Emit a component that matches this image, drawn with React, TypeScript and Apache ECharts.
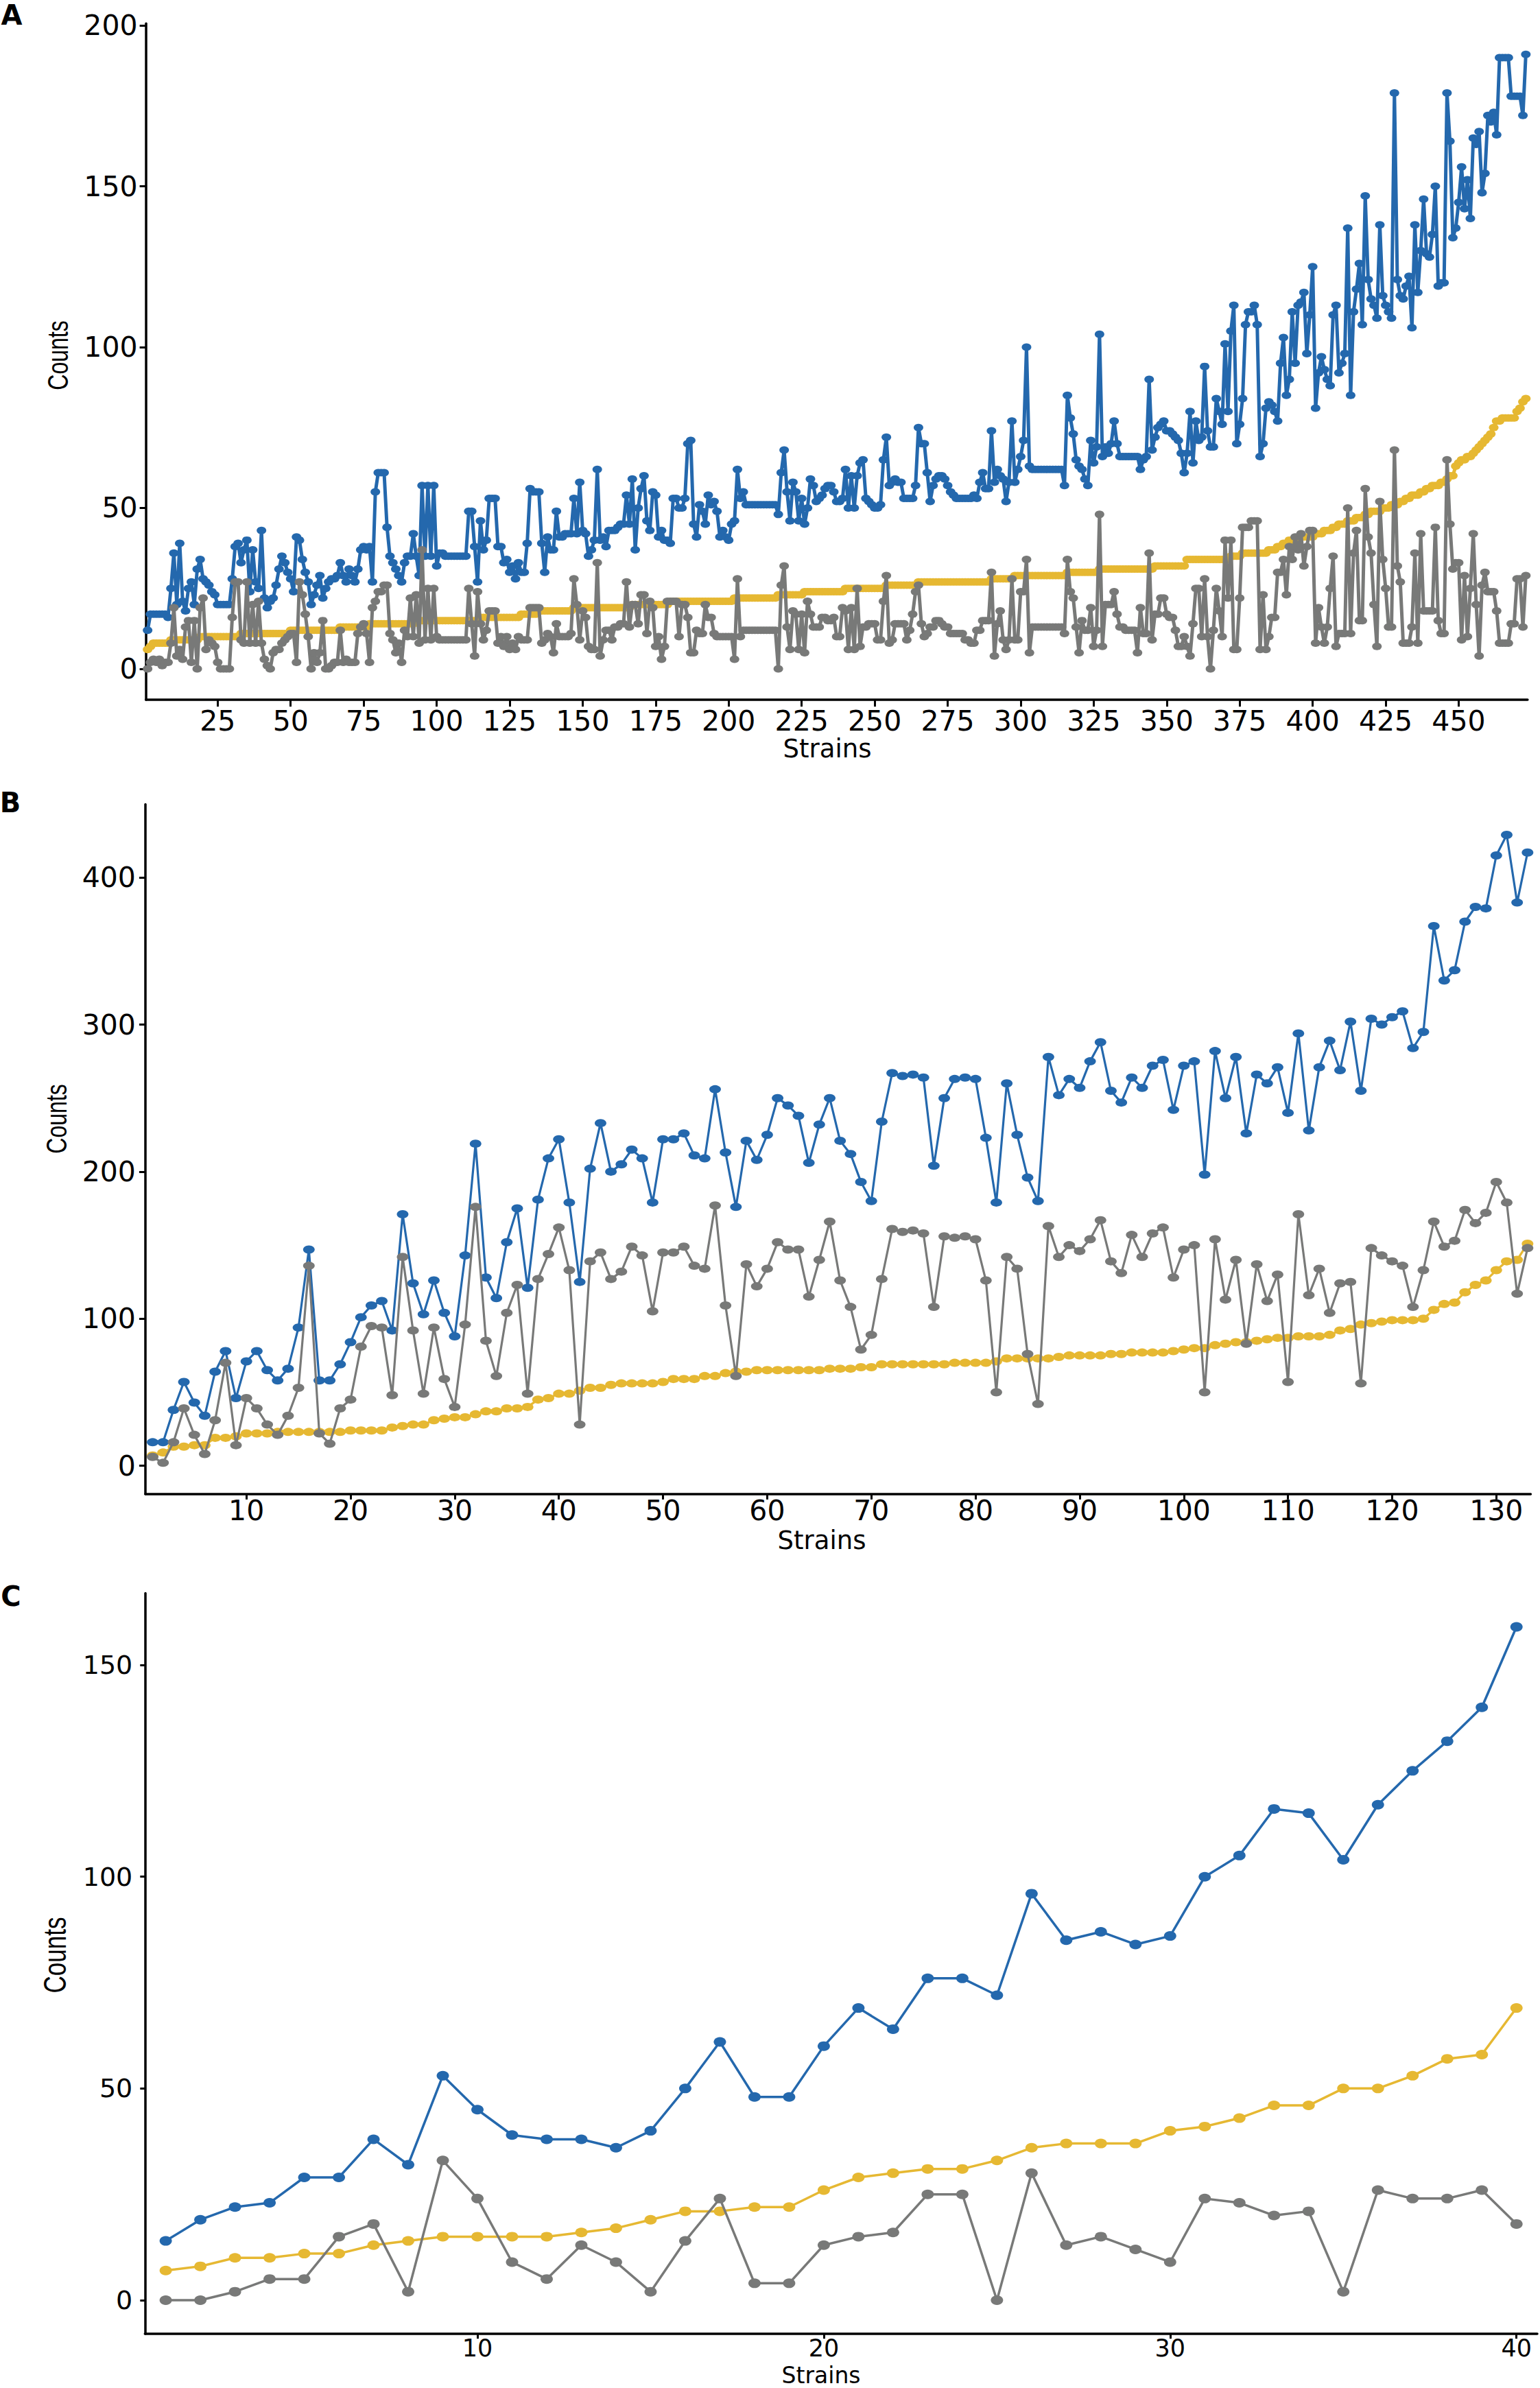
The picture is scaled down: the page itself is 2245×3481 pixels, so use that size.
import React, { useEffect, useRef } from "react";
import * as echarts from "echarts";

// ---------------- Panel A (473 strains) ----------------
const blueA = [
  12,17,17,17,17,17,17,16,25,36,
  20,39,21,18,25,27,20,31,34,28,
  27,26,24,23,20,20,20,20,20,28,
  38,39,33,37,40,24,37,27,25,43,
  22,19,21,22,26,31,35,33,30,28,
  24,41,40,34,30,27,20,23,26,29,
  22,25,27,28,28,29,33,29,27,31,
  29,27,31,37,38,37,38,27,55,61,
  61,61,44,35,33,31,29,27,33,35,
  35,42,35,29,57,35,57,35,57,32,
  36,36,35,35,35,35,35,35,35,35,
  49,49,38,27,46,37,40,53,53,53,
  38,38,33,34,30,32,28,33,30,30,
  39,56,55,55,55,39,30,41,37,37,
  49,41,41,42,42,42,53,42,58,43,
  42,35,37,40,62,40,41,38,43,43,
  43,44,45,45,54,45,59,37,50,56,
  60,46,43,55,54,41,43,40,40,39,
  53,53,50,50,53,70,71,45,41,51,
  49,45,54,51,52,49,41,43,41,40,
  45,46,62,53,55,51,51,51,51,51,
  51,51,51,51,51,51,48,61,68,55,
  46,58,55,46,53,45,50,59,57,52,
  53,54,56,57,57,55,52,52,53,62,
  50,60,50,60,64,65,53,52,51,50,
  50,51,65,72,57,58,59,58,58,53,
  53,53,53,57,75,70,70,61,52,57,
  59,60,60,59,57,55,54,53,53,53,
  53,53,53,54,53,58,61,56,56,74,
  58,62,60,59,52,58,77,58,62,66,
  71,100,63,62,62,62,62,62,62,62,
  62,62,62,62,57,85,78,73,65,63,
  62,59,57,71,64,69,104,66,69,67,
  70,77,70,66,66,66,66,66,66,66,
  62,65,66,90,68,72,75,76,77,74,
  74,73,72,71,67,61,67,80,64,77,
  71,72,94,74,69,69,84,80,76,101,
  80,105,113,70,76,84,107,111,111,113,
  107,66,70,81,83,82,80,77,95,103,
  85,90,111,95,113,114,117,98,110,125,
  81,92,97,93,90,88,110,113,92,95,
  98,137,85,111,118,126,107,147,121,115,
  113,109,138,116,113,111,109,179,121,116,
  115,119,122,106,138,117,130,146,129,128,
  135,150,119,120,120,179,164,134,137,145,
  156,143,152,140,165,163,167,148,154,172,
  170,173,166,190,190,190,190,178,178,178,
  178,172,191,
];

const greyA = [
  0,2,3,2,3,1,2,2,8,19,
  4,6,3,13,15,2,15,0,19,22,
  6,9,8,7,2,0,0,0,0,16,
  27,27,9,8,27,8,20,8,21,8,
  3,1,0,5,6,6,8,9,10,11,
  11,2,27,23,17,10,0,5,2,5,
  15,0,0,1,2,2,12,2,3,2,
  2,2,11,13,14,11,2,19,21,24,
  24,26,26,11,9,5,8,2,12,10,
  22,10,23,8,37,9,25,9,25,10,
  9,9,9,9,9,9,9,9,9,9,
  25,14,4,24,14,9,12,18,18,18,
  8,10,7,10,6,8,6,10,9,9,
  9,19,19,19,19,8,9,11,10,5,
  14,10,10,10,10,11,28,20,9,18,
  16,7,6,6,33,4,9,12,12,9,
  13,13,14,14,27,13,20,20,14,23,
  23,11,21,19,7,10,3,7,21,21,
  21,21,10,20,20,16,5,5,12,11,
  11,20,16,16,11,10,10,10,10,10,
  10,3,28,10,12,12,12,12,12,12,
  12,12,12,12,12,12,0,26,32,13,
  6,18,17,6,17,5,21,17,13,13,
  13,16,16,15,15,16,10,10,19,18,
  6,19,6,25,7,13,13,14,14,14,
  9,9,21,29,8,9,14,14,14,14,
  9,12,17,24,26,14,10,11,13,13,
  15,15,14,13,13,11,11,11,11,11,
  9,9,8,8,12,12,15,15,15,30,
  4,14,18,9,6,9,28,9,9,24,
  24,34,5,13,13,13,13,13,13,13,
  13,13,13,13,11,34,24,22,13,5,
  15,12,12,19,7,12,48,7,20,20,
  20,24,17,13,13,12,12,12,12,5,
  19,11,11,36,9,17,17,22,22,17,
  16,16,12,7,7,10,7,4,14,25,
  25,10,28,10,0,12,25,18,10,40,
  22,40,6,6,22,44,44,44,46,46,
  46,6,23,6,10,16,16,30,30,34,
  23,38,34,41,37,42,32,38,43,43,
  8,19,13,8,13,25,35,7,11,11,
  11,50,11,36,43,15,15,56,41,36,
  20,7,52,34,25,13,13,68,32,27,
  8,8,8,13,36,8,42,18,18,18,
  18,44,15,11,11,65,45,31,33,33,
  9,29,10,25,42,20,4,26,30,24,
  24,24,18,8,8,8,8,14,14,28,
  28,13,29,
];

const yellowA = [
  6,7,8,8,8,8,8,8,9,9,
  9,9,9,9,9,9,9,9,10,10,
  10,10,10,10,10,10,10,10,10,10,
  10,10,11,11,11,11,11,11,11,11,
  11,11,11,11,11,11,11,11,11,12,
  12,12,12,12,12,12,12,12,12,12,
  12,12,12,12,12,12,13,13,13,13,
  13,13,13,13,13,13,14,14,14,14,
  14,14,14,14,14,14,14,14,14,14,
  14,14,15,15,15,15,15,15,15,15,
  15,15,15,15,15,15,15,15,15,15,
  15,15,15,15,16,16,16,16,16,16,
  16,16,16,16,16,16,16,16,17,17,
  17,17,17,17,18,18,18,18,18,18,
  18,18,18,18,18,18,19,19,19,19,
  19,19,19,19,19,19,19,19,19,19,
  19,19,19,19,19,19,20,20,20,20,
  20,20,20,20,20,20,20,20,20,21,
  21,21,21,21,21,21,21,21,21,21,
  21,21,21,21,21,21,21,21,21,21,
  21,22,22,22,22,22,22,22,22,22,
  22,22,22,22,22,22,23,23,23,23,
  23,23,23,23,23,24,24,24,24,24,
  24,24,24,24,24,24,24,24,24,25,
  25,25,25,25,25,25,25,25,25,25,
  25,25,25,26,26,26,26,26,26,26,
  26,26,26,26,27,27,27,27,27,27,
  27,27,27,27,27,27,27,27,27,27,
  27,27,27,27,27,27,27,27,27,28,
  28,28,28,28,28,28,28,29,29,29,
  29,29,29,29,29,29,29,29,29,29,
  29,29,29,29,29,30,30,30,30,30,
  30,30,30,30,30,30,31,31,31,31,
  31,31,31,31,31,31,31,31,31,31,
  31,31,31,31,31,32,32,32,32,32,
  32,32,32,32,32,32,34,34,34,34,
  34,34,34,34,34,34,34,34,34,34,
  34,35,35,35,35,36,36,36,36,36,
  36,36,36,36,37,37,37,38,38,39,
  39,40,40,40,40,41,41,41,41,41,
  42,42,42,43,43,43,44,44,45,45,
  45,46,46,46,47,47,47,48,48,49,
  49,49,49,50,50,50,51,51,51,52,
  52,53,53,54,54,54,55,55,56,56,
  57,57,57,58,58,59,60,60,63,64,
  65,65,66,66,67,68,69,70,71,72,
  73,75,77,77,78,78,78,78,78,80,
  81,83,84,
];

// ---------------- Panel B (133 strains) ----------------
const blueB = [
  16,16,38,57,43,34,64,78,46,71,
  78,65,58,66,94,147,58,58,69,84,
  101,109,112,92,171,124,103,126,104,88,
  143,219,128,114,152,175,121,181,209,222,
  179,125,202,233,200,205,215,209,179,222,
  222,226,211,209,256,213,176,221,208,225,
  250,245,238,206,232,250,221,212,193,180,
  234,267,265,266,264,204,250,263,264,263,
  223,179,260,225,196,180,278,252,263,257,
  275,288,255,247,264,257,272,276,242,272,
  275,198,282,250,278,226,266,260,271,240,
  294,228,271,289,269,302,255,304,300,305,
  309,284,295,367,330,337,370,380,379,415,
  429,383,417,
];

const greyB = [
  6,2,16,39,21,8,31,70,14,46,
  39,28,21,34,53,136,22,15,39,45,
  81,95,94,48,142,92,49,94,59,40,
  96,176,85,61,104,123,49,127,144,162,
  133,28,139,145,127,132,149,143,105,145,
  145,149,136,134,177,109,61,137,122,134,
  152,147,147,115,140,166,126,108,79,89,
  127,161,159,160,158,108,156,155,156,154,
  126,50,142,134,76,42,163,142,150,146,
  154,167,139,131,157,142,158,162,128,147,
  150,50,154,113,140,83,137,112,130,57,
  171,116,134,104,124,125,56,148,143,139,
  136,108,133,166,149,153,174,165,172,193,
  179,117,148,
];

const yellowB = [
  7,9,13,13,14,14,19,19,20,22,
  22,22,23,23,23,23,23,23,23,24,
  24,24,24,26,27,28,28,31,32,33,
  33,35,37,37,39,39,40,45,46,49,
  49,51,53,53,55,56,56,56,56,57,
  59,59,59,61,61,63,64,64,65,65,
  65,65,65,65,65,66,66,66,67,67,
  69,69,69,69,69,69,69,70,70,70,
  70,71,73,73,73,73,73,74,75,75,
  75,75,76,76,77,77,77,77,78,79,
  80,80,82,83,84,84,85,86,87,87,
  88,88,88,89,92,93,96,97,98,99,
  99,99,100,106,110,111,118,123,126,133,
  139,140,151,
];

// ---------------- Panel C (40 strains) ----------------
const blueC = [
  14,19,22,23,29,29,38,32,53,45,
  39,38,38,36,40,50,61,48,48,60,
  69,64,76,76,72,96,85,87,84,86,
  100,105,116,115,104,117,125,132,140,159,
];
const yellowC = [
  7,8,10,10,11,11,13,14,15,15,
  15,15,16,17,19,21,21,22,22,26,
  29,30,31,31,33,36,37,37,37,40,
  41,43,46,46,50,50,53,57,58,69,
];
const greyC = [
  0,0,2,5,5,15,18,2,33,24,
  9,5,13,9,2,14,24,4,4,13,
  15,16,25,25,0,30,13,15,12,9,
  24,23,20,21,2,26,24,24,26,18,
];

// ---------------- Tick labels ----------------
const xTicksA = [25, 50, 75, 100, 125, 150, 175, 200, 225, 250, 275, 300, 325, 350, 375, 400, 425, 450];
const yTicksA = [0, 50, 100, 150, 200];
const xTicksB = [10, 20, 30, 40, 50, 60, 70, 80, 90, 100, 110, 120, 130];
const yTicksB = [0, 100, 200, 300, 400];
const xTicksC = [10, 20, 30, 40];
const yTicksC = [0, 50, 100, 150];

const BLUE = "#2468ad";
const GREY = "#787978";
const YELLOW = "#e6b832";
const FONT = "DejaVu Sans";

const toPairs = (arr: number[]) => arr.map((v, i) => [i + 1, v]);

function xAx(grid: number, min: number, max: number, ticks: number[], fontSize: number, margin: number, tickLen: number) {
  return {
    type: "value",
    gridIndex: grid,
    min,
    max,
    axisLine: { show: true, onZero: false, lineStyle: { color: "#000", width: 3.5 } },
    axisTick: { show: true, length: tickLen, customValues: ticks, lineStyle: { color: "#000", width: 3 } },
    axisLabel: { customValues: ticks, color: "#000", fontFamily: FONT, fontSize, margin },
    splitLine: { show: false },
  };
}

function yAx(grid: number, min: number, max: number, ticks: number[], fontSize: number, margin: number, tickLen: number) {
  return {
    type: "value",
    gridIndex: grid,
    min,
    max,
    axisLine: { show: true, onZero: false, lineStyle: { color: "#000", width: 3.5 } },
    axisTick: { show: true, length: tickLen, customValues: ticks, lineStyle: { color: "#000", width: 3 } },
    axisLabel: { customValues: ticks, color: "#000", fontFamily: FONT, fontSize, margin },
    splitLine: { show: false },
  };
}

function line(grid: number, arr: number[], color: string, width: number, size: number[], z: number) {
  return {
    type: "line",
    xAxisIndex: grid,
    yAxisIndex: grid,
    data: toPairs(arr),
    symbol: "circle",
    symbolSize: size,
    showSymbol: true,
    showAllSymbol: true,
    lineStyle: { color, width },
    itemStyle: { color },
    z,
    silent: true,
    emphasis: { disabled: true },
  };
}

function txt(text: string, x: number, y: number, font: string, opts: any = {}) {
  return {
    type: "text",
    x,
    y,
    rotation: opts.rotation || 0,
    scaleX: opts.scaleX || 1,
    scaleY: opts.scaleY || 1,
    silent: true,
    style: { text, font, fill: "#000", align: "center", verticalAlign: "middle" },
  };
}

export default function App() {
  const ref = useRef<HTMLDivElement>(null);
  useEffect(() => {
    if (!ref.current) return;
    const chart = echarts.init(ref.current, undefined, { renderer: "svg" });
    const nA = blueA.length;
    const nB = blueB.length;
    const nC = blueC.length;
    chart.setOption({
      animation: false,
      backgroundColor: "#fff",
      textStyle: { fontFamily: FONT },
      grid: [
        { left: 212.6, top: 34.2, width: 2014.3, height: 985.8 },
        { left: 211.9, top: 1172.4, width: 2019.5, height: 1005.4 },
        { left: 211.3, top: 2322.4, width: 2029.7, height: 1079.7 },
      ],
      xAxis: [
        xAx(0, 0.4, nA + 0.6, xTicksA, 41, 10, 10),
        xAx(1, 0.3, nB + 0.3, xTicksB, 41, 4, 8),
        xAx(2, 0.4, nC + 0.6, xTicksC, 35, 3, 7),
      ],
      yAxis: [
        yAx(0, -9.6, 200.6, yTicksA, 41, 12, 9),
        yAx(1, -19.2, 449.8, yTicksB, 41, 14, 9),
        yAx(2, -7.95, 166.95, yTicksC, 38, 18, 7),
      ],
      series: [
        line(0, blueA, BLUE, 5, [14, 11], 2),
        line(0, yellowA, YELLOW, 5, [14, 11], 3),
        line(0, greyA, GREY, 5, [14, 11], 4),
        line(1, blueB, BLUE, 3.2, [17, 12], 2),
        line(1, yellowB, YELLOW, 3.2, [17, 12], 3),
        line(1, greyB, GREY, 3.2, [17, 12], 4),
        line(2, blueC, BLUE, 3.5, [18, 14], 2),
        line(2, yellowC, YELLOW, 3.5, [18, 14], 3),
        line(2, greyC, GREY, 3.5, [18, 14], 4),
      ],
      graphic: [
        txt("A", 17, 22, 'bold 40px "DejaVu Sans"'),
        txt("B", 15, 1170, 'bold 40px "DejaVu Sans"'),
        txt("C", 16, 2327, 'bold 40px "DejaVu Sans"'),
        txt("Counts", 84, 518, '32px "Liberation Sans"', { rotation: Math.PI / 2, scaleY: 1.3 }),
        txt("Counts", 82.5, 1631, '32px "Liberation Sans"', { rotation: Math.PI / 2, scaleY: 1.3 }),
        txt("Counts", 80.5, 2850, '35px "Liberation Sans"', { rotation: Math.PI / 2, scaleY: 1.3 }),
        txt("Strains", 1206, 1091, '37px "DejaVu Sans"'),
        txt("Strains", 1198, 2245, '37px "DejaVu Sans"'),
        txt("Strains", 1197, 3462, '33px "DejaVu Sans"'),
      ],
    });
    return () => chart.dispose();
  }, []);
  return (
    <div
      ref={ref}
      style={{ position: "absolute", left: 0, top: 0, width: 2245, height: 3481, background: "#fff" }}
    />
  );
}
